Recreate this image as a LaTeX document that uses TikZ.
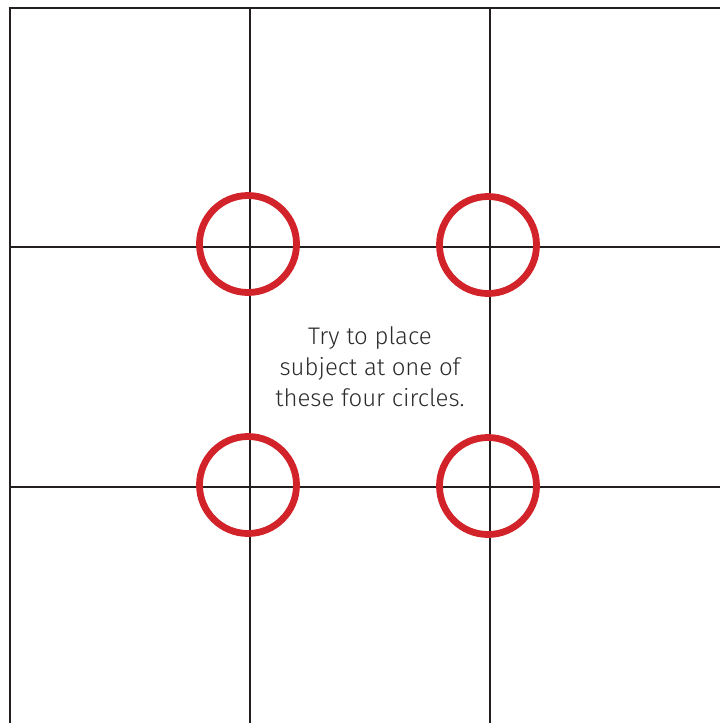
\documentclass[tikz,border=0pt]{standalone}
\usepackage{fontspec}
\setmainfont{Fira Sans Light}
\definecolor{gridc}{HTML}{231F20}
\definecolor{ringc}{HTML}{D2232A}
\definecolor{textc}{HTML}{2B2B2B}
\tikzset{
  gridline/.style={draw=gridc, line width=2.8pt},
  ring/.style={circle, draw=ringc, line width=6.8pt, minimum size=97pt, inner sep=0pt},
  label/.style={align=center, text=textc, font=\fontsize{24}{31}\selectfont}
}
\begin{document}
\begin{tikzpicture}[x=1pt,y=-1pt]
\useasboundingbox (0,0) rectangle (720,723);
% grid coordinates
\coordinate (tl) at (8.6,8);
\coordinate (tr) at (720,8);
\coordinate (lb) at (10,723);
\coordinate (v1t) at (250,8);
\coordinate (v1b) at (250,723);
\coordinate (v2t) at (490,8);
\coordinate (v2b) at (490,723);
\coordinate (h1l) at (10,247);
\coordinate (h1r) at (720,247);
\coordinate (h2l) at (10,487);
\coordinate (h2r) at (720,487);
\coordinate (lt) at (10,8);
\draw[gridline] (tl) -- (tr);
\draw[gridline] (lt) -- (lb);
\draw[gridline] (v1t) -- (v1b);
\draw[gridline] (v2t) -- (v2b);
\draw[gridline] (h1l) -- (h1r);
\draw[gridline] (h2l) -- (h2r);
\node[ring] (c1) at (248,244) {};
\node[ring] (c2) at (488,245) {};
\node[ring] (c3) at (248,485) {};
\node[ring] (c4) at (488,486) {};
\node[label] (txt) at (370,367) {Try to place\\subject at one of\\these four circles.};
\end{tikzpicture}
\end{document}
